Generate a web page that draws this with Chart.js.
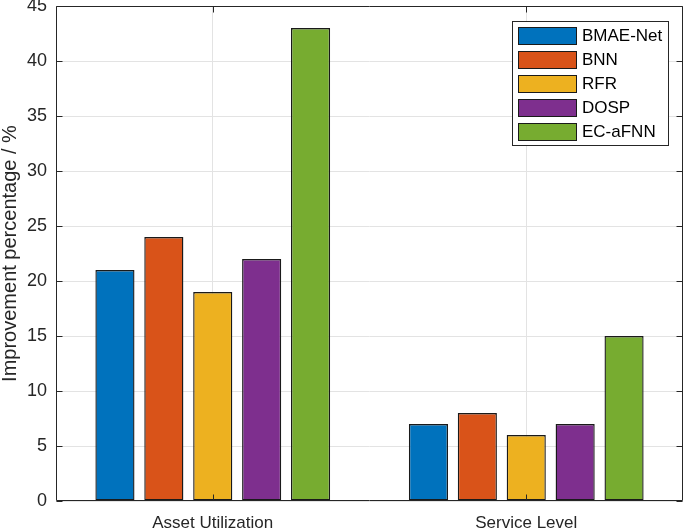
<!DOCTYPE html>
<html>
<head>
<meta charset="utf-8">
<script src="https://cdn.jsdelivr.net/npm/chart.js@4/dist/chart.umd.min.js"></script>
<style>
html,body{margin:0;padding:0;background:#fff;}
#wrap{width:685px;height:529px;position:relative;}
</style>
</head>
<body>
<div id="wrap"><canvas id="c" width="685" height="529"></canvas></div>
<script>
const categories = ["Asset Utilization", "Service Level"];
const seriesNames = ["BMAE-Net", "BNN", "RFR", "DOSP", "EC-aFNN"];
const bmaeNet = [21, 7];
const bnn = [24, 8];
const rfr = [19, 6];
const dosp = [22, 7];
const ecaFNN = [43, 15];
const yTicks = [0, 5, 10, 15, 20, 25, 30, 35, 40, 45];
const colors = ["#0072BD", "#D95319", "#EDB120", "#7E2F8E", "#77AC30"];

const seriesValues = [bmaeNet, bnn, rfr, dosp, ecaFNN];
const FONT = "'Liberation Sans', Arial, Helvetica, sans-serif";
const AX = "#262626";

const boxPlugin = {
  id: 'boxTicks',
  afterDatasetsDraw(chart) {
    const ctx = chart.ctx;
    const a = chart.chartArea;
    const xs = chart.scales.x, ys = chart.scales.y;
    ctx.save();
    ctx.strokeStyle = AX;
    ctx.lineWidth = 1;
    const L = Math.round(a.left) + 0.5, R = Math.round(a.right) - 0.5;
    const T = Math.round(a.top) + 0.5, B = Math.round(a.bottom) - 0.5;
    ctx.beginPath();
    ctx.rect(L, T, R - L, B - T);
    ctx.stroke();
    const tl = 6;
    ctx.beginPath();
    yTicks.forEach(v => {
      const y = Math.round(ys.getPixelForValue(v)) + 0.5;
      ctx.moveTo(L, y); ctx.lineTo(L + tl, y);
      ctx.moveTo(R, y); ctx.lineTo(R - tl, y);
    });
    categories.forEach((c, i) => {
      const x = Math.round(xs.getPixelForValue(i)) + 0.5;
      ctx.moveTo(x, B); ctx.lineTo(x, B - tl);
      ctx.moveTo(x, T); ctx.lineTo(x, T + tl);
    });
    ctx.stroke();

    // legend
    const lx = 512.5, ly = 21.5, lw = 156, lh = 124;
    ctx.fillStyle = "#fff";
    ctx.fillRect(lx, ly, lw, lh);
    ctx.strokeStyle = AX;
    ctx.strokeRect(lx, ly, lw, lh);
    ctx.font = "17px " + FONT;
    ctx.textBaseline = "middle";
    seriesNames.forEach((n, i) => {
      const top = 27 + i * 24;
      ctx.fillStyle = colors[i];
      ctx.fillRect(518.5, top + 0.5, 58, 17);
      ctx.strokeStyle = "#1a1a1a";
      ctx.strokeRect(518.5, top + 0.5, 58, 17);
      ctx.fillStyle = "#000";
      ctx.fillText(n, 582, top + 9.5);
    });
    ctx.restore();
  }
};

new Chart(document.getElementById('c'), {
  type: 'bar',
  data: {
    labels: categories,
    datasets: seriesNames.map((n, i) => ({
      label: n,
      data: seriesValues[i],
      backgroundColor: colors[i],
      borderColor: "#1a1a1a",
      borderWidth: 1.4,
      borderSkipped: false,
      barPercentage: 0.8,
      categoryPercentage: 0.78
    }))
  },
  options: {
    responsive: false,
    animation: false,
    devicePixelRatio: 1,
    layout: { padding: { top: 6, right: 2, left: 0, bottom: 0 } },
    plugins: { legend: { display: false }, tooltip: { enabled: false } },
    scales: {
      x: {
        grid: { offset: false, color: "#e3e3e3", drawTicks: false },
        border: { display: false },
        ticks: { color: AX, font: { family: FONT, size: 17 }, padding: 12 },
        afterFit(s) { s.height = 28; s.paddingLeft = 0; s.paddingRight = 0; }
      },
      y: {
        min: 0, max: 45,
        afterBuildTicks(s) { s.ticks = yTicks.map(v => ({ value: v })); },
        grid: { color: "#e3e3e3", drawTicks: false },
        border: { display: false },
        ticks: { color: AX, font: { family: FONT, size: 18 }, padding: 9 },
        title: { display: true, text: "Improvement percentage / %", color: AX, font: { family: FONT, size: 20 }, padding: { top: -2, bottom: 0 } },
        afterFit(s) { s.width = 56; s.paddingTop = 0; s.paddingBottom = 0; }
      }
    }
  },
  plugins: [boxPlugin]
});
</script>
</body>
</html>
